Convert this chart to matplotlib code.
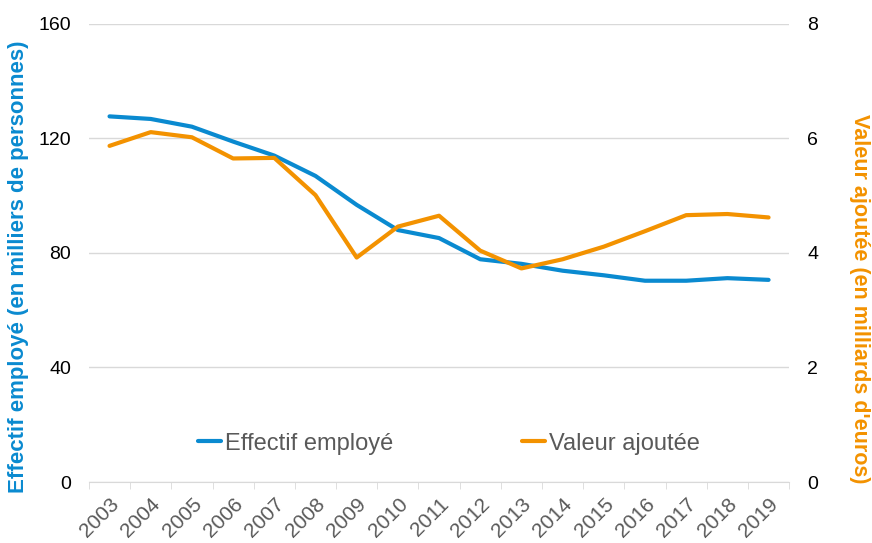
import matplotlib
matplotlib.use('Agg')
import matplotlib.pyplot as plt
import numpy as np

plt.rcParams['font.family'] = ['Liberation Sans', 'DejaVu Sans']

years = ['2003', '2004', '2005', '2006', '2007', '2008', '2009', '2010', '2011',
         '2012', '2013', '2014', '2015', '2016', '2017', '2018', '2019']
effectif = [127.7, 126.8, 124.1, 118.9, 114.0, 106.9, 96.8, 88.0, 85.2,
            77.8, 76.2, 73.8, 72.2, 70.3, 70.3, 71.2, 70.6]
valeur = [5.87, 6.11, 6.02, 5.65, 5.66, 5.01, 3.92, 4.46, 4.65,
          4.04, 3.73, 3.89, 4.11, 4.38, 4.66, 4.68, 4.62]

BLUE = '#0A8AD0'
ORANGE = '#F39200'
GREY = '#D9D9D9'


def main():
    fig = plt.figure(figsize=(8.72, 5.43), dpi=100)
    ax = fig.add_axes([0.102, 0.1123, 0.803, 0.8437])
    ax2 = ax.twinx()

    x = np.arange(len(years))
    l1, = ax.plot(x, effectif, color=BLUE, lw=3, solid_capstyle='round',
                  label='Effectif employé', zorder=3)
    l2, = ax2.plot(x, valeur, color=ORANGE, lw=3, solid_capstyle='round',
                   label='Valeur ajoutée', zorder=3)

    ax.set_xlim(-0.5, len(years) - 0.5)
    ax.set_ylim(0, 160)
    ax2.set_ylim(0, 8)
    ax.set_yticks([0, 40, 80, 120, 160])
    ax2.set_yticks([0, 2, 4, 6, 8])
    ax.yaxis.grid(True, color=GREY, lw=1)
    ax.set_axisbelow(True)

    for a in (ax, ax2):
        for s in ('top', 'left', 'right'):
            a.spines[s].set_visible(False)
        a.spines['bottom'].set_color(GREY)
        a.tick_params(axis='y', length=0, labelsize=14, pad=13)
    ax2.spines['bottom'].set_visible(False)

    ax.set_xticks(x)
    ax.set_xticklabels(years, rotation=45, ha='right', rotation_mode='anchor',
                       fontsize=15, color='#595959')
    ax.tick_params(axis='x', which='major', length=0, pad=9)
    ax.set_xticks(np.arange(-0.5, len(years), 1), minor=True)
    ax.tick_params(axis='x', which='minor', length=5, color=GREY)

    ax.set_ylabel('Effectif employé (en milliers de personnes)', color=BLUE,
                  fontsize=16, fontweight='bold', va='center')
    ax.yaxis.set_label_coords(-0.101, 0.47)
    ax2.set_ylabel("Valeur ajoutée (en milliards d'euros)", color=ORANGE,
                   fontsize=15.5, fontweight='bold', rotation=270, va='center')
    ax2.yaxis.set_label_coords(1.101, 0.40)

    leg = fig.legend([l1, l2], ['Effectif employé', 'Valeur ajoutée'],
                     loc='center', bbox_to_anchor=(0.5145, 0.183), ncol=2,
                     frameon=False, fontsize=17, handlelength=1.0,
                     handletextpad=0.15, columnspacing=5.45)
    for t in leg.get_texts():
        t.set_color('#595959')

    fig.savefig('out.png', dpi=100)


if __name__ == '__main__':
    main()
